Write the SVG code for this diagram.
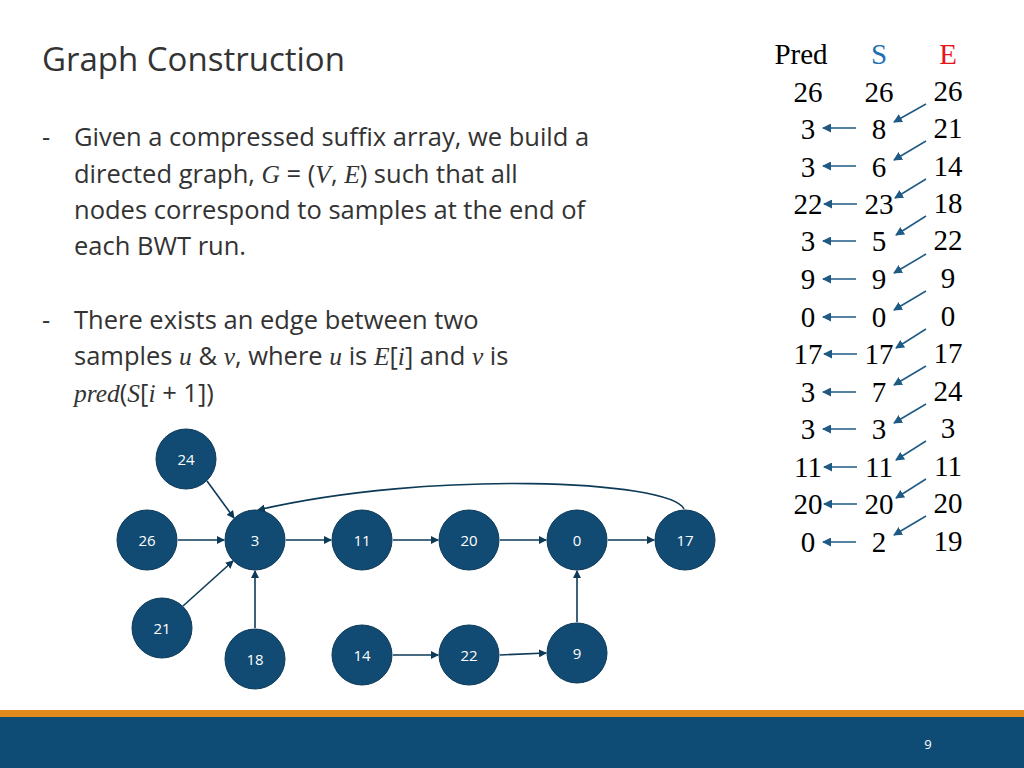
<svg xmlns="http://www.w3.org/2000/svg" width="1024" height="768" viewBox="0 0 1024 768">
<defs>
<marker id="ah" markerWidth="8" markerHeight="8" refX="7" refY="4" orient="auto" markerUnits="userSpaceOnUse"><path d="M0,0 L8,4 L0,8 z" fill="#0d3a57"/></marker>
<marker id="ta" markerWidth="9" markerHeight="9" refX="8" refY="4.5" orient="auto" markerUnits="userSpaceOnUse"><path d="M0,0 L9,4.5 L0,9 z" fill="#1f5a85"/></marker>
<style>
.n ellipse{fill:#114a72;stroke:#0d3a57;stroke-width:1}
.n text{fill:#fff;font-family:"Open Sans","Liberation Sans",sans-serif;font-size:15px;text-anchor:middle}
.e{stroke:#0d3a57;stroke-width:1.6;fill:none;marker-end:url(#ah)}
.t{stroke:#1f5a85;stroke-width:1.5;fill:none;marker-end:url(#ta)}
.body{font-family:"Open Sans","Liberation Sans",sans-serif;font-size:25.5px;fill:#333}
.m{font-family:"Liberation Serif",serif;font-style:italic}
.tab{font-family:"Liberation Serif",serif;font-size:29px;fill:#000;text-anchor:middle}
</style>
</defs>
<rect width="1024" height="768" fill="#fff"/>
<text x="42" y="71" font-family="Open Sans,Liberation Sans,sans-serif" font-size="33" fill="#333">Graph Construction</text>
<g class="body">
<text x="42" y="146">-</text>
<text x="74" y="146">Given a compressed suffix array, we build a</text>
<text x="74" y="183">directed graph, <tspan class="m">G</tspan>  =  (<tspan class="m">V</tspan>, <tspan class="m">E</tspan>) such that all</text>
<text x="74" y="219">nodes correspond to samples at the end of</text>
<text x="74" y="255">each BWT run.</text>
<text x="42" y="329">-</text>
<text x="74" y="329">There exists an edge between two</text>
<text x="74" y="365">samples <tspan class="m">u</tspan> &amp; <tspan class="m">v</tspan>, where <tspan class="m">u</tspan> is <tspan class="m">E</tspan>[<tspan class="m">i</tspan>] and <tspan class="m">v</tspan> is</text>
<text x="74" y="402"><tspan class="m">pred</tspan>(<tspan class="m">S</tspan>[<tspan class="m">i</tspan> + 1])</text>
</g>
<g id="table" class="tab">
<text x="801" y="64">Pred</text><text x="879" y="64" fill="#1f6fb5">S</text><text x="948" y="64" fill="#e8141b">E</text>
<text x="808" y="102">26</text><text x="879" y="102">26</text><text x="948" y="101">26</text>
<text x="808" y="139">3</text><text x="879" y="139">8</text><text x="948" y="138">21</text>
<text x="808" y="177">3</text><text x="879" y="177">6</text><text x="948" y="176">14</text>
<text x="808" y="214">22</text><text x="879" y="214">23</text><text x="948" y="213">18</text>
<text x="808" y="251">3</text><text x="879" y="251">5</text><text x="948" y="250">22</text>
<text x="808" y="289">9</text><text x="879" y="289">9</text><text x="948" y="288">9</text>
<text x="808" y="327">0</text><text x="879" y="327">0</text><text x="948" y="326">0</text>
<text x="808" y="364">17</text><text x="879" y="364">17</text><text x="948" y="363">17</text>
<text x="808" y="402">3</text><text x="879" y="402">7</text><text x="948" y="401">24</text>
<text x="808" y="439">3</text><text x="879" y="439">3</text><text x="948" y="438">3</text>
<text x="808" y="477">11</text><text x="879" y="477">11</text><text x="948" y="476">11</text>
<text x="808" y="514">20</text><text x="879" y="514">20</text><text x="948" y="513">20</text>
<text x="808" y="552">0</text><text x="879" y="552">2</text><text x="948" y="551">19</text>
</g>
<g id="table-arrows">
<line class="t" x1="856" y1="128" x2="823" y2="128"/>
<line class="t" x1="856" y1="166" x2="823" y2="166"/>
<line class="t" x1="857" y1="204" x2="824" y2="204"/>
<line class="t" x1="856" y1="241" x2="823" y2="241"/>
<line class="t" x1="856" y1="279" x2="823" y2="279"/>
<line class="t" x1="856" y1="317" x2="823" y2="317"/>
<line class="t" x1="857" y1="354" x2="824" y2="354"/>
<line class="t" x1="856" y1="392" x2="823" y2="392"/>
<line class="t" x1="856" y1="429" x2="823" y2="429"/>
<line class="t" x1="857" y1="467" x2="824" y2="467"/>
<line class="t" x1="857" y1="504" x2="824" y2="504"/>
<line class="t" x1="856" y1="542" x2="823" y2="542"/>
<line class="t" x1="926" y1="104" x2="894" y2="122"/>
<line class="t" x1="926" y1="141" x2="894" y2="160"/>
<line class="t" x1="926" y1="179" x2="895" y2="198"/>
<line class="t" x1="926" y1="216" x2="896" y2="235"/>
<line class="t" x1="926" y1="254" x2="894" y2="273"/>
<line class="t" x1="926" y1="291" x2="894" y2="310"/>
<line class="t" x1="926" y1="329" x2="896" y2="348"/>
<line class="t" x1="926" y1="366" x2="894" y2="385"/>
<line class="t" x1="926" y1="404" x2="894" y2="423"/>
<line class="t" x1="926" y1="441" x2="896" y2="460"/>
<line class="t" x1="926" y1="479" x2="896" y2="498"/>
<line class="t" x1="926" y1="516" x2="894" y2="535"/>
</g>
<g id="edges">
<line class="e" x1="207" y1="481" x2="234" y2="518"/>
<line class="e" x1="178" y1="540" x2="224" y2="540"/>
<line class="e" x1="183" y1="606" x2="233" y2="561"/>
<line class="e" x1="255" y1="628" x2="255" y2="571"/>
<line class="e" x1="286" y1="540" x2="331" y2="540"/>
<line class="e" x1="393" y1="540" x2="438" y2="540"/>
<line class="e" x1="500" y1="540" x2="546" y2="540"/>
<line class="e" x1="608" y1="540" x2="654" y2="540"/>
<path class="e" d="M 684 509 C 670 480 430 470 258 510"/>
<line class="e" x1="577" y1="622" x2="577" y2="571"/>
<line class="e" x1="393" y1="655" x2="438" y2="655"/>
<line class="e" x1="500" y1="655" x2="546" y2="653"/>
</g>
<g id="n24" class="n"><ellipse cx="186" cy="459" rx="30" ry="30"/><text x="186" y="465">24</text></g>
<g id="n26" class="n"><ellipse cx="147" cy="540" rx="30" ry="30"/><text x="147" y="546">26</text></g>
<g id="n3" class="n"><ellipse cx="255" cy="540" rx="30" ry="30"/><text x="255" y="546">3</text></g>
<g id="n11" class="n"><ellipse cx="362" cy="540" rx="30" ry="30"/><text x="362" y="546">11</text></g>
<g id="n20" class="n"><ellipse cx="469" cy="540" rx="30" ry="30"/><text x="469" y="546">20</text></g>
<g id="n0" class="n"><ellipse cx="577" cy="540" rx="30" ry="30"/><text x="577" y="546">0</text></g>
<g id="n17" class="n"><ellipse cx="685" cy="540" rx="30" ry="30"/><text x="685" y="546">17</text></g>
<g id="n21" class="n"><ellipse cx="162" cy="628" rx="30" ry="30"/><text x="162" y="634">21</text></g>
<g id="n18" class="n"><ellipse cx="255" cy="659" rx="30" ry="30"/><text x="255" y="665">18</text></g>
<g id="n14" class="n"><ellipse cx="362" cy="655" rx="30" ry="30"/><text x="362" y="661">14</text></g>
<g id="n22" class="n"><ellipse cx="469" cy="655" rx="30" ry="30"/><text x="469" y="661">22</text></g>
<g id="n9" class="n"><ellipse cx="577" cy="653" rx="30" ry="30"/><text x="577" y="659">9</text></g>
<rect x="0" y="710" width="1024" height="7" fill="#e08a1e"/>
<rect x="0" y="717" width="1024" height="51" fill="#0f4c75"/>
<text x="928" y="749" font-family="Open Sans,Liberation Sans,sans-serif" font-size="13" fill="#fff" text-anchor="middle">9</text>
</svg>
